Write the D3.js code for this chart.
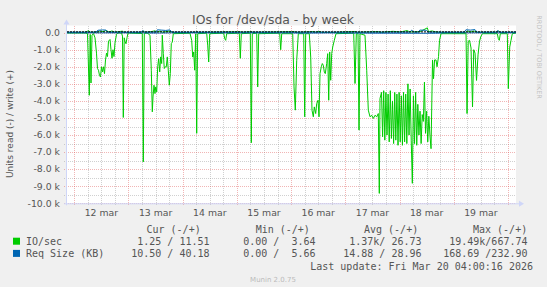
<!DOCTYPE html>
<html><head><meta charset="utf-8">
<script src="https://cdn.jsdelivr.net/npm/d3@7"></script>
<style>
html,body{margin:0;padding:0;background:#f0f0f0;}
svg{display:block;}
text{white-space:pre;}
</style></head><body>
<svg id="chart" width="547" height="287"></svg>
<script>
// ---------- DATA (time = hours after 2026-03-12 00:00, values in IO/s or KB) ----------
const baseTime = Date.UTC(2026, 2, 12, 0, 0, 0);
const timeRangeHours = [-3.23, 195.58];
const title = "IOs for /dev/sda - by week";
const yAxisLabel = "Units read (-) / write (+)";
const yTickValues = [0, -1000, -2000, -3000, -4000, -5000, -6000, -7000, -8000, -9000, -10000];
const yTickLabels = ["0.0", "-1.0 k", "-2.0 k", "-3.0 k", "-4.0 k", "-5.0 k", "-6.0 k", "-7.0 k", "-8.0 k", "-9.0 k", "-10.0 k"];
const dayLabels = ["12 mar", "13 mar", "14 mar", "15 mar", "16 mar", "17 mar", "18 mar", "19 mar"];
const seriesNames = ["IO/sec", "Req Size (KB)"];
const seriesColors = ["#00cc00", "#0066b3"];
const legendHeaders = ["Cur (-/+)", "Min (-/+)", "Avg (-/+)", "Max (-/+)"];
const legendCur = ["1.25 / 11.51", "10.50 / 40.18"];
const legendMin = ["0.00 /  3.64", "0.00 /  5.66"];
const legendAvg = ["1.37k/ 26.73", "14.88 / 28.96"];
const legendMax = ["19.49k/667.74", "168.69 /232.90"];
const lastUpdate = "Last update: Fri Mar 20 04:00:16 2026";
const muninVersion = "Munin 2.0.75";
const watermark = "RRDTOOL / TOBI OETIKER";

// IO/sec read (drawn negative)
const ioRead = [
[-3.23,-20],[4.74,-20],[5.85,-50],[6.64,-3670],[7.04,-100],[7.39,-2950],[7.84,-150],[8.50,-50],[9.17,-300],[9.83,-1200],
[10.27,-2100],[10.72,-2200],[11.16,-2500],[11.60,-2600],[12.04,-2000],[12.49,-2300],[12.93,-2000],[13.37,-2400],[13.82,-1600],[14.26,-1200],
[14.70,-1400],[15.14,-500],[15.81,-400],[16.25,-1000],[16.70,-1500],[17.14,-1000],[17.58,-1400],[18.02,-600],[18.69,-100],[19.35,-20],
[20.90,-20],[21.34,-200],[21.70,-4970],[22.10,-300],[22.45,-500],[22.89,-650],[23.34,-300],[23.78,-20],[30.11,-50],[30.55,-7570],
[31.00,-50],[32.19,-20],[33.08,-100],[33.52,-150],[34.10,-2200],[34.54,-4640],[34.85,-3770],[35.29,-3080],[35.73,-3570],[36.04,-3180],
[36.49,-3470],[36.93,-2000],[37.37,-1520],[37.82,-2300],[38.26,-1420],[38.70,-1810],[38.97,-150],[39.41,-1230],[39.85,-2100],[40.30,-2000],
[40.74,-2000],[41.18,-1420],[41.62,-2200],[42.07,-3080],[42.51,-2400],[42.95,-640],[43.39,-550],[43.84,-60],[51.23,-30],[51.98,-450],
[52.43,-1430],[52.87,-1130],[53.31,-2200],[53.76,-60],[54.20,-5900],[54.64,-60],[58.63,-30],[59.07,-730],[59.51,-1720],[59.96,-60],
[66.15,-30],[66.60,-350],[67.04,-450],[67.48,-60],[73.06,-30],[73.51,-1500],[73.95,-60],[77.93,-30],[78.38,-6450],[78.82,-60],
[80.77,-30],[81.21,-3180],[81.65,-60],[90.95,-30],[91.39,-1000],[91.84,-60],[96.71,-60],[97.29,-3180],[97.86,-4540],[98.48,-1620],
[99.19,-60],[101.58,-60],[102.02,-4930],[102.46,-60],[104.06,-60],[104.68,-1430],[105.25,-4540],[105.83,-4930],[106.27,-4350],[106.89,-4740],
[107.34,-4150],[107.91,-3960],[108.36,-4930],[108.80,-2400],[109.37,-2000],[109.82,-1810],[110.26,-1910],[110.70,-2300],[111.14,-2400],[111.76,-1810],
[112.21,-1230],[112.65,-3960],[113.09,-1130],[113.54,-2790],[113.98,-1230],[114.42,-840],[115.13,-450],[115.88,-60],[123.72,-30],[124.30,-2980],
[124.87,-60],[125.62,-60],[126.07,-5710],[126.51,-60],[128.72,-150],[129.48,-2200],[130.18,-4540],[130.94,-4930],[131.69,-4840],[132.40,-5030],
[133.15,-4840],[133.91,-4930],[134.61,-4740],[135.05,-9420],[135.36,-3860],
[136.03,-3500],[136.51,-6100],[137.00,-3400],[137.49,-6300],[137.98,-3500],[138.46,-6000],[138.95,-3600],[139.44,-6400],[139.93,-3400],[140.41,-6200],
[140.90,-4000],[141.39,-6500],[141.88,-3500],[142.36,-6300],[142.85,-3600],[143.34,-6600],[143.83,-3500],[144.31,-6400],[144.80,-3700],[145.29,-6600],
[145.78,-3500],[146.26,-6400],[146.75,-3600],[147.24,-6500],[147.73,-3000],[148.21,-6000],[148.70,-3300],[149.19,-6300],[149.68,-8830],[150.16,-3700],
[150.65,-6500],[151.14,-3500],[151.63,-6600],[152.11,-4200],[152.60,-6000],[153.09,-4600],[153.57,-6500],[154.06,-4800],[154.55,-5200],[155.04,-2900],
[155.52,-5900],[156.01,-4600],[156.50,-6400],[156.99,-4900],[157.47,-6000],[157.96,-6800],
[158.62,-1600],[159.07,-2700],[159.51,-1600],[160.17,-1600],[160.62,-2000],[161.28,-1400],[161.72,-450],[162.39,-60],[173.46,-60],[173.90,-4740],
[174.42,-500],[175.01,-450],[175.67,-900],[176.33,-4350],[176.86,-1000],[177.44,-1200],[178.10,-2800],[178.77,-1300],[179.43,-500],[180.09,-200],
[180.76,-60],[187.31,-60],[187.75,-350],[188.19,-450],[188.64,-60],[191.73,-60],[192.18,-3280],[192.80,-840],[193.37,-450],[193.95,-60],[195.58,-20]
];
// IO/sec write (drawn positive)
const ioWrite = [
[-3.23,15],[4.74,15],[6.38,120],[6.95,20],[10.49,30],[11.38,110],[12.71,60],[14.04,130],[15.37,40],[16.70,100],[18.02,20],
[21.25,90],[22.01,15],[29.53,15],[30.64,80],[31.31,15],[34.41,70],[35.73,110],[36.62,30],[37.95,90],[39.28,20],[40.60,60],
[42.38,100],[43.27,15],[53.58,15],[54.20,70],[54.78,15],[73.51,50],[74.26,15],[78.38,60],[79.13,15],[97.29,60],[98.17,15],
[105.70,60],[107.03,20],[108.36,80],[109.68,15],[115.44,15],[124.30,70],[125.19,15],[130.05,40],[134.48,60],[135.81,20],
[141.13,80],[144.23,40],[147.33,120],[148.66,40],[153.09,60],[156.31,280],[156.85,60],[158.40,100],[160.17,40],[162.39,15],
[173.46,15],[174.12,110],[175.23,30],[177.00,100],[178.33,20],[187.18,20],[187.84,90],[188.51,15],[195.58,15]
];
// Req size read (drawn negative)
const reqRead = [
[-3.23,-12],[30,-12],[35,-25],[43,-12],[96,-15],[100,-30],[112,-15],[130,-30],[160,-35],[165,-12],[195.58,-12]
];
// Req size write (drawn positive)
const reqWrite = [
[-3.23,28],[9.48,30],[10.5,140],[12.5,160],[14.0,150],[15.0,30],[29.5,30],[30.4,120],[31.2,30],[36.3,30],[36.8,170],
[38.5,150],[40.5,130],[42.3,160],[43.3,30],[148.5,30],[149.4,140],[150.5,30],[152.4,30],[153.0,150],[155.9,140],[156.7,30],
[172.7,30],[173.4,170],[175.5,150],[177.4,180],[178.4,30],[187.0,30],[187.5,130],[188.2,30],[195.58,28]
];

// ---------- DRAWING ----------
(function () {
const toDate = h => new Date(baseTime + h * 3600e3);
const svg = d3.select("#chart");
const W = 547, H = 287;
const pLeft = 67, pRight = 516, pTop = 25.5, pBottom = 203.3;
const fontCol = "#555555";

const x = d3.scaleUtc().domain(timeRangeHours.map(toDate)).range([pLeft, pRight]);
const y = d3.scaleLinear().domain([-10000, 420]).range([pBottom, pTop]);

svg.append("rect").attr("width", W).attr("height", H).attr("fill", "#f0f0f0");
svg.append("rect").attr("x", pLeft).attr("y", pTop).attr("width", pRight - pLeft).attr("height", pBottom - pTop).attr("fill", "#ffffff");

const [d0, d1] = x.domain();
const minorX = d3.utcHour.every(6).range(d0, d1).filter(d => d.getUTCHours() !== 0);
const majorX = d3.utcDay.range(d0, d1);
const minorY = yTickValues.slice(0, -1).map(v => v - 500);

const gridMinor = "rgba(150,150,150,0.45)";
const gridMajor = "rgba(222,79,79,0.42)";
const g = svg.append("g").attr("shape-rendering", "crispEdges");

g.selectAll(".mx").data(minorX).join("line")
  .attr("x1", d => Math.round(x(d)) + 0.5).attr("x2", d => Math.round(x(d)) + 0.5)
  .attr("y1", pTop).attr("y2", pBottom + 3)
  .attr("stroke", gridMinor).attr("stroke-dasharray", "1,1");
g.selectAll(".my").data(minorY).join("line")
  .attr("x1", pLeft - 3).attr("x2", pRight)
  .attr("y1", d => Math.round(y(d)) + 0.5).attr("y2", d => Math.round(y(d)) + 0.5)
  .attr("stroke", gridMinor).attr("stroke-dasharray", "1,1");
g.selectAll(".Mx").data(majorX).join("line")
  .attr("x1", d => Math.round(x(d)) + 0.5).attr("x2", d => Math.round(x(d)) + 0.5)
  .attr("y1", pTop).attr("y2", pBottom + 3)
  .attr("stroke", gridMajor).attr("stroke-dasharray", "1,1");
g.selectAll(".My").data(yTickValues).join("line")
  .attr("x1", pLeft - 3).attr("x2", pRight)
  .attr("y1", d => Math.round(y(d)) + 0.5).attr("y2", d => Math.round(y(d)) + 0.5)
  .attr("stroke", gridMajor).attr("stroke-dasharray", "1,1");

// series lines
const line = d3.line().x(d => x(toDate(d[0]))).y(d => y(d[1]));
const plot = svg.append("g");
plot.append("path").datum(ioRead).attr("d", line).attr("fill", "none").attr("stroke", seriesColors[0]).attr("stroke-width", 1);
plot.append("path").datum(ioWrite).attr("d", line).attr("fill", "none").attr("stroke", seriesColors[0]).attr("stroke-width", 1);
plot.append("path").datum(reqRead).attr("d", line).attr("fill", "none").attr("stroke", seriesColors[1]).attr("stroke-width", 1);
plot.append("path").datum(reqWrite).attr("d", line).attr("fill", "none").attr("stroke", seriesColors[1]).attr("stroke-width", 1);
// zero rule
svg.append("line").attr("x1", pLeft).attr("x2", pRight).attr("y1", y(0) - 0.8).attr("y2", y(0) - 0.8)
  .attr("stroke", "#000").attr("stroke-width", 1).attr("stroke-dasharray", "2,1");

// axes
const axisCol = "#cfd6f8";
svg.append("line").attr("x1", pLeft - 0.5).attr("x2", pLeft - 0.5).attr("y1", pBottom + 2).attr("y2", pTop - 2)
  .attr("stroke", axisCol);
svg.append("line").attr("x1", pLeft - 3).attr("x2", pRight + 4).attr("y1", pBottom + 0.5).attr("y2", pBottom + 0.5)
  .attr("stroke", axisCol);
svg.append("path").attr("d", `M${pLeft - 3.5},${pTop - 1}L${pLeft - 0.5},${pTop - 6}L${pLeft + 2.5},${pTop - 1}Z`).attr("fill", axisCol);
svg.append("path").attr("d", `M${pRight + 3},${pBottom - 2.5}L${pRight + 8},${pBottom + 0.5}L${pRight + 3},${pBottom + 3.5}Z`).attr("fill", axisCol);

// tick labels
svg.selectAll(".yl").data(yTickValues).join("text")
  .attr("x", 60).attr("y", d => y(d) + 3.3).attr("text-anchor", "end")
  .attr("font-family", "DejaVu Sans").attr("font-size", 9.3).attr("fill", fontCol)
  .text((d, i) => yTickLabels[i]);
svg.selectAll(".xl").data(dayLabels).join("text")
  .attr("x", (d, i) => x(toDate(i * 24 + 12))).attr("y", 216).attr("text-anchor", "middle")
  .attr("font-family", "DejaVu Sans").attr("font-size", 9.3).attr("fill", fontCol)
  .text(d => d);

// title and y label
svg.append("text").attr("x", 273).attr("y", 24).attr("text-anchor", "middle")
  .attr("font-family", "DejaVu Sans").attr("font-size", 12.4).attr("fill", fontCol).text(title);
svg.append("text").attr("transform", "translate(13,124) rotate(-90)").attr("text-anchor", "middle")
  .attr("font-family", "DejaVu Sans").attr("font-size", 9).attr("fill", fontCol).text(yAxisLabel);

// legend
const mono = "DejaVu Sans Mono";
const lf = 10;
const headerX = [146.5, 255.7, 364, 473];
legendHeaders.forEach((h, i) => {
  svg.append("text").attr("x", headerX[i]).attr("y", 232.5).attr("font-family", mono).attr("font-size", lf)
    .attr("fill", fontCol).text(h);
});
const colEnds = [209.5, 315.5, 421.5, 527.5];
const cols = [legendCur, legendMin, legendAvg, legendMax];
seriesNames.forEach((name, r) => {
  const yy = 245.2 + r * 12.2;
  svg.append("rect").attr("x", 13).attr("y", yy - 7.5).attr("width", 7).attr("height", 7).attr("fill", seriesColors[r]);
  svg.append("text").attr("x", 26).attr("y", yy).attr("font-family", mono).attr("font-size", lf).attr("fill", fontCol).text(name);
  cols.forEach((c, ci) => {
    svg.append("text").attr("x", colEnds[ci]).attr("y", yy).attr("text-anchor", "end").attr("font-family", mono)
      .attr("font-size", lf).attr("fill", fontCol).text(c[r]);
  });
});
svg.append("text").attr("x", 533).attr("y", 269.8).attr("text-anchor", "end").attr("font-family", mono)
  .attr("font-size", lf).attr("fill", fontCol).text(lastUpdate);
svg.append("text").attr("x", 273).attr("y", 282).attr("text-anchor", "middle").attr("font-family", "DejaVu Sans")
  .attr("font-size", 7).attr("fill", "#bbbbbb").text(muninVersion);
svg.append("text").attr("transform", "translate(536.5,57) rotate(90)").attr("text-anchor", "middle")
  .attr("font-family", "DejaVu Sans").attr("font-size", 6.5).attr("fill", "#c4c4c4").text(watermark);
})();
</script>
</body></html>
